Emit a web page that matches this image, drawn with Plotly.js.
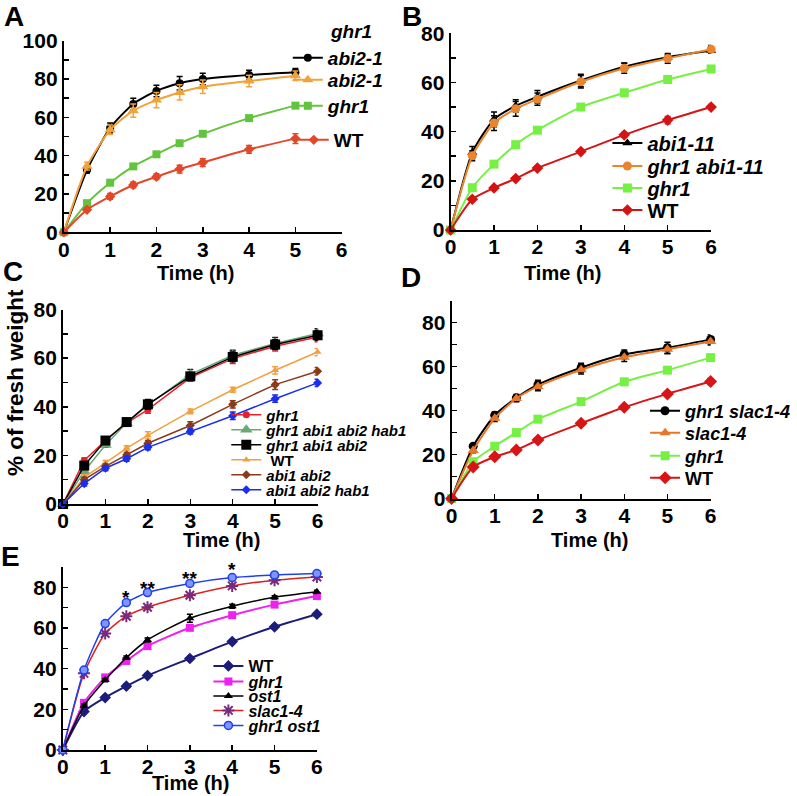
<!DOCTYPE html>
<html>
<head>
<meta charset="utf-8">
<script src="https://cdn.plot.ly/plotly-3.0.1.min.js"></script>
<style>html,body{margin:0;padding:0;background:#fff}#chart{width:797px;height:796px}</style>
</head>
<body>
<div id="chart"></div>
<script>
// ---------- DATA ----------
const tA = [0, 0.5, 1, 1.5, 2, 2.5, 3, 4, 5];
const A_ghr1abi21 = [0, 32.5, 54.5, 67, 73.8, 77.8, 80, 82.1, 83.5];
const A_ghr1abi21_err = [0, 1.5, 2.5, 3, 3, 3.5, 3, 2.5, 2];
const A_abi21 = [0, 34.5, 53.5, 63.5, 69, 73, 76, 79, 81.7];
const A_abi21_err = [0, 2, 2.5, 3.5, 4, 4, 3.5, 3, 2.5];
const A_ghr1 = [0, 15.2, 25.9, 34.4, 40.7, 46.5, 51.4, 59.6, 66.1];
const A_ghr1_err = [0, 1, 1, 1, 1, 1, 1, 1, 1];
const A_WT = [0, 11.8, 18.7, 24.7, 29, 33, 36.4, 43.3, 48.9];
const A_WT_err = [0, 1, 1.5, 1.5, 1.5, 2, 2, 2, 2.5];

const tB = [0, 0.5, 1, 1.5, 2, 3, 4, 5, 6];
const B_abi111 = [0, 31.5, 45, 50.5, 54.2, 60.8, 66.4, 70.3, 73];
const B_abi111_err = [0, 2.5, 3, 2.5, 2.5, 2.5, 1.5, 1, 1];
const B_ghr1abi111 = [0, 30.2, 43.5, 49.3, 53.2, 60.3, 65.8, 69.8, 73.5];
const B_ghr1abi111_err = [0, 2, 3, 3, 2.5, 2.5, 2, 2, 1.5];
const B_ghr1 = [0, 17.2, 26.8, 34.7, 40.6, 50, 55.8, 61.2, 65.5];
const B_ghr1_err = [0, 1, 1, 1, 1, 1, 1, 1.2, 1.2];
const B_WT = [0, 12.5, 17.1, 20.9, 25.2, 31.9, 38.7, 44.7, 50];
const B_WT_err = [0, 0.8, 0.8, 0.8, 0.8, 0.8, 1, 1.5, 1];

const tC = [0, 0.5, 1, 1.5, 2, 3, 4, 5, 6];
const C_ghr1 = [0, 17.9, 26.1, 33.3, 38.8, 52, 59.8, 64.9, 68.7];
const C_ghr1_err = [0, 1, 1, 1, 1.5, 1.5, 2, 2, 2];
const C_ghr1abi1abi2hab1 = [0, 13.5, 24.3, 33.3, 40.7, 53.3, 61.2, 66, 70.1];
const C_ghr1abi1abi2hab1_err = [0, 1, 1, 1, 1.5, 2, 2, 2.5, 2];
const C_ghr1abi1abi2 = [0, 15.8, 26.1, 33.7, 41, 52.5, 60.5, 65.6, 69.4];
const C_ghr1abi1abi2_err = [0, 1.5, 1.5, 1.5, 2, 1.5, 2, 2, 2];
const C_WT = [0, 11, 16.9, 23, 28.2, 38.1, 47, 55, 62.5];
const C_WT_err = [0, 1, 1, 1, 1.5, 1, 1, 1.5, 1.5];
const C_abi1abi2 = [0, 10, 15.5, 20.2, 25, 32.3, 41, 49.1, 54.6];
const C_abi1abi2_err = [0, 1, 1, 1, 1, 1.5, 1.5, 2, 1.5];
const C_abi1abi2hab1 = [0, 8.4, 14.7, 18.6, 23.3, 29.8, 36.3, 43.3, 49.8];
const C_abi1abi2hab1_err = [0, 1, 1, 1, 1, 1, 1.5, 1.5, 1.5];

const tD = [0, 0.5, 1, 1.5, 2, 3, 4, 5, 6];
const D_ghr1slac14 = [0, 23.8, 37.9, 45.8, 51.8, 59.5, 65.6, 68.6, 72.4];
const D_ghr1slac14_err = [0, 1, 1.5, 1.5, 2, 2, 2, 2.5, 2];
const D_slac14 = [0, 21.8, 36.5, 45.5, 51, 58.6, 64.3, 67.9, 71.4];
const D_slac14_err = [0, 1, 1.5, 1.5, 2, 2, 2, 2, 1.5];
const D_ghr1 = [0, 16.7, 23.8, 30, 36.1, 44.1, 53.1, 58.4, 64.1];
const D_ghr1_err = [0, 0.8, 0.8, 0.8, 0.8, 0.8, 0.8, 0.8, 0.8];
const D_WT = [0, 14.3, 19, 22.1, 26.6, 34.2, 41.5, 47.6, 53.2];
const D_WT_err = [0, 1, 1, 1, 1, 1, 1, 1, 1.5];

const tE = [0, 0.5, 1, 1.5, 2, 3, 4, 5, 6];
const E_WT = [0, 18.9, 25.8, 31.4, 36.6, 45, 53.3, 60.6, 66.8];
const E_WT_err = [0, 1, 1, 1, 1, 1, 1, 1, 1];
const E_ghr1 = [0, 23.2, 35.7, 43.8, 51.1, 60.1, 66.3, 71.5, 75.7];
const E_ghr1_err = [0, 0.8, 0.8, 0.8, 1, 1, 0.8, 0.8, 0.8];
const E_ost1 = [0, 21.8, 34.4, 45.4, 54.1, 64.8, 70.7, 75.1, 77.8];
const E_ost1_err = [0, 0.8, 0.8, 0.8, 1, 2, 1, 0.8, 0.8];
const E_slac14 = [0, 37.7, 57.3, 65.8, 70.2, 76.1, 80.7, 83.5, 85.1];
const E_slac14_err = [0, 0.8, 0.8, 0.8, 0.8, 0.8, 0.8, 0.8, 0.8];
const E_ghr1ost1 = [0, 39.3, 62.2, 72.5, 77.4, 81.9, 84.8, 86.1, 86.8];
const E_ghr1ost1_err = [0, 0.8, 0.8, 0.8, 0.8, 0.8, 0.8, 0.8, 0.8];

const sigX = [1.5, 2, 3, 4];
const sigLabels = ['*', '**', '**', '*'];
const sigY = [75, 79.6, 84.3, 88.7];

const xTicks = [0, 1, 2, 3, 4, 5, 6];

// ---------- LAYOUT HELPERS ----------
const W = 797, H = 796;
const px = v => v / W;
const py = v => 1 - v / H;
const FONT = 'Liberation Sans, Arial, sans-serif';

const traces = [];
const legends = {};
let legendCount = 0;

function addLegend(textLeft, yCenter, size) {
  legendCount++;
  const key = legendCount === 1 ? 'legend' : 'legend' + legendCount;
  legends[key] = {
    x: px(textLeft - 40), y: py(yCenter), xanchor: 'left', yanchor: 'middle',
    bgcolor: 'rgba(0,0,0,0)', borderwidth: 0, itemwidth: 30,
    font: {family: FONT, size: size, color: '#000'},
    itemclick: false, itemdoubleclick: false
  };
  return key;
}

function series(ax, x, y, err, name, color, marker, leg, opts) {
  opts = opts || {};
  traces.push({
    type: 'scatter', mode: 'lines+markers',
    x: x, y: y, name: name,
    xaxis: 'x' + ax, yaxis: 'y' + ax,
    line: {color: color, width: opts.lw || 2, shape: opts.shape || 'spline', smoothing: 0.6},
    marker: Object.assign({color: color}, marker),
    error_y: {type: 'data', array: err, visible: true, color: opts.ecolor || color, thickness: 1.5, width: 3},
    cliponaxis: false,
    legend: addLegend(leg[0], leg[1], leg[2]),
    showlegend: true
  });
}

const it = s => '<b><i>' + s + '</i></b>';
const bd = s => '<b>' + s + '</b>';

// Panel A
series(1, tA, A_ghr1abi21, A_ghr1abi21_err, it('abi2-1'), '#000000', {symbol: 'circle', size: 8}, [330, 58, 19]);
series(1, tA, A_abi21, A_abi21_err, it('abi2-1'), '#f2a23a', {symbol: 'triangle-up', size: 10}, [330, 80, 19]);
series(1, tA, A_ghr1, A_ghr1_err, it('ghr1'), '#62c43c', {symbol: 'square', size: 8}, [330, 106, 19]);
series(1, tA, A_WT, A_WT_err, bd('WT'), '#e2472a', {symbol: 'diamond', size: 8}, [336, 140, 19]);
// Panel B
series(2, tB, B_abi111, B_abi111_err, it('abi1-11'), '#000000', {symbol: 'triangle-up', size: 9}, [652, 143, 20]);
series(2, tB, B_ghr1abi111, B_ghr1abi111_err, it('ghr1 abi1-11'), '#e8852e', {symbol: 'circle', size: 9}, [652, 166, 20], {ecolor: '#000'});
series(2, tB, B_ghr1, B_ghr1_err, it('ghr1'), '#77f044', {symbol: 'square', size: 9}, [652, 188, 20]);
series(2, tB, B_WT, B_WT_err, bd('WT'), '#d41414', {symbol: 'diamond', size: 9}, [652, 210, 20]);
// Panel C
series(3, tC, C_ghr1, C_ghr1_err, it('ghr1'), '#e8202a', {symbol: 'circle', size: 7}, [268, 415, 15], {shape: 'linear', lw: 1.5});
series(3, tC, C_ghr1abi1abi2hab1, C_ghr1abi1abi2hab1_err, it('ghr1 abi1 abi2 hab1'), '#6aa878', {symbol: 'triangle-up', size: 11}, [268, 430, 15], {shape: 'linear', lw: 1.5, ecolor: '#222'});
series(3, tC, C_ghr1abi1abi2, C_ghr1abi1abi2_err, it('ghr1 abi1 abi2'), '#000000', {symbol: 'square', size: 10}, [268, 445, 15], {shape: 'linear', lw: 1.5});
series(3, tC, C_WT, C_WT_err, bd(' WT'), '#f0a040', {symbol: 'triangle-up', size: 7}, [268, 460, 15], {shape: 'linear', lw: 1.5});
series(3, tC, C_abi1abi2, C_abi1abi2_err, it('abi1 abi2'), '#8b3a1a', {symbol: 'diamond', size: 7}, [268, 475, 15], {shape: 'linear', lw: 1.5});
series(3, tC, C_abi1abi2hab1, C_abi1abi2hab1_err, it('abi1 abi2 hab1'), '#1a2ef0', {symbol: 'diamond', size: 7}, [268, 490, 15], {shape: 'linear', lw: 1.5});
// Panel D
series(4, tD, D_ghr1slac14, D_ghr1slac14_err, it('ghr1 slac1-4'), '#000000', {symbol: 'circle', size: 9}, [690, 411, 18]);
series(4, tD, D_slac14, D_slac14_err, it('slac1-4'), '#e8762a', {symbol: 'triangle-up', size: 10}, [690, 433, 18], {ecolor: '#000'});
series(4, tD, D_ghr1, D_ghr1_err, it('ghr1'), '#77f044', {symbol: 'square', size: 9}, [690, 456, 18]);
series(4, tD, D_WT, D_WT_err, bd('WT'), '#d81414', {symbol: 'diamond', size: 10}, [690, 478, 18]);
// Panel E
series(5, tE, E_WT, E_WT_err, bd('WT'), '#1c1c7a', {symbol: 'diamond', size: 9}, [250, 666, 16]);
series(5, tE, E_ghr1, E_ghr1_err, it('ghr1'), '#ee22ee', {symbol: 'square', size: 8}, [250, 681.5, 16]);
series(5, tE, E_ost1, E_ost1_err, it('ost1'), '#000000', {symbol: 'triangle-up', size: 8}, [250, 696, 16], {lw: 1.5});
series(5, tE, E_slac14, E_slac14_err, it('slac1-4'), '#e02020', {symbol: 'asterisk-open', size: 10, color: '#7a2a7a', line: {color: '#7a2a7a', width: 2}}, [250, 710.5, 16], {lw: 1.5});
series(5, tE, E_ghr1ost1, E_ghr1ost1_err, it('ghr1 ost1'), '#2040f0', {symbol: 'circle', size: 8, color: '#7f95ff', line: {color: '#2040f0', width: 1.5}}, [250, 725.5, 16], {lw: 1.5});

// ---------- AXES ----------
const tickfont = {family: FONT, size: 21, color: '#000', weight: 'bold'};
function xax(l, r, anchor) {
  return {domain: [px(l), px(r)], range: [0, 6], anchor: anchor, tickvals: xTicks,
    showline: true, linecolor: '#000', linewidth: 2, ticks: 'inside', ticklen: 5, tickwidth: 1.5, tickcolor: '#000',
    ticklabelstandoff: -3,
    showgrid: false, zeroline: false, tickfont: tickfont, fixedrange: true};
}
function yax(top, bottom, max, anchor) {
  return {domain: [py(bottom), py(top)], range: [0, max], anchor: anchor, dtick: 20, tick0: 0,
    showline: true, linecolor: '#000', linewidth: 2, ticks: 'inside', ticklen: 5, tickwidth: 1.5, tickcolor: '#000',
    minor: {dtick: 10, tick0: 0, ticks: 'inside', ticklen: 5, tickwidth: 1.5, tickcolor: '#000', showgrid: false},
    showgrid: false, zeroline: false, tickfont: tickfont, fixedrange: true};
}

const annFont = (s) => ({family: FONT, size: s, color: '#000', weight: 'bold'});
function paperText(text, x, y, size, extra) {
  return Object.assign({text: text, xref: 'paper', yref: 'paper', x: px(x), y: py(y),
    xanchor: 'center', yanchor: 'middle', showarrow: false, font: annFont(size)}, extra || {});
}

const annotations = [
  paperText('A', 14, 17, 28), paperText('B', 415, 17, 28), paperText('C', 13, 272, 28),
  paperText('D', 414, 277, 28), paperText('E', 11, 556, 28),
  paperText('Time (h)', 197, 273, 20), paperText('Time (h)', 567, 273, 20),
  paperText('Time (h)', 223, 540, 20), paperText('Time (h)', 594, 540, 20),
  paperText('Time (h)', 192, 783, 20),
  paperText('% of fresh weight', 15, 382, 22.5, {textangle: -90}),
  paperText('<i>ghr1</i>', 330, 32, 19, {xanchor: 'left'})
];
sigX.forEach((sx, i) => annotations.push({text: sigLabels[i], x: sx, y: sigY[i], xref: 'x5', yref: 'y5',
  showarrow: false, xanchor: 'center', yanchor: 'middle', font: annFont(19)}));

const layout = Object.assign({
  width: W, height: H, margin: {l: 0, r: 0, t: 0, b: 0},
  paper_bgcolor: '#fff', plot_bgcolor: 'rgba(0,0,0,0)',
  font: {family: FONT, color: '#000'},
  xaxis: xax(64.3, 344.3, 'y'), yaxis: yax(40.7, 232.3, 100, 'x'),
  xaxis2: xax(454, 716.5, 'y2'), yaxis2: yax(33.3, 230, 80, 'x2'),
  xaxis3: xax(63.5, 320, 'y3'), yaxis3: yax(309.5, 504, 80, 'x3'),
  xaxis4: xax(455, 716, 'y4'), yaxis4: yax(300.7, 498.5, 90, 'x4'),
  xaxis5: xax(63.3, 319.3, 'y5'), yaxis5: yax(567, 750, 90, 'x5'),
  annotations: annotations
}, legends);

Plotly.newPlot('chart', traces, layout, {displayModeBar: false, staticPlot: true});
</script>
</body>
</html>
